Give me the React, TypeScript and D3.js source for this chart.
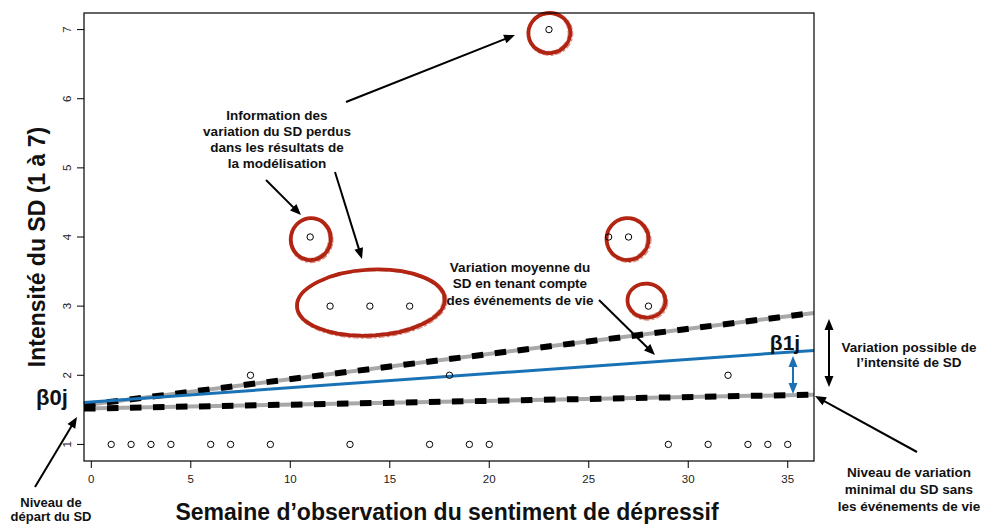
import React from "react";
import * as d3 from "d3";

// ---- data ----
const weeks = [1, 2, 3, 4, 6, 7, 8, 9, 11, 12, 13, 14, 16, 17, 18, 19, 20, 23, 26, 27, 28, 29, 31, 32, 33, 34, 35];
const intensity = [1, 1, 1, 1, 1, 1, 2, 1, 4, 3, 1, 3, 3, 1, 2, 1, 1, 7, 4, 4, 3, 1, 1, 2, 1, 1, 1];
const xTicks = [0, 5, 10, 15, 20, 25, 30, 35];
const yTicks = [1, 2, 3, 4, 5, 6, 7];
// trajectories: [intercept, slope]
const upperLine = [1.58, 0.0364];
const meanLine = [1.615, 0.0205];
const lowerLine = [1.52, 0.0055];
// highlighted groups: [centre week, centre value, rx(px), ry(px), rotation]
const highlights = [
  [23.02, 6.95, 21, 20, -8],
  [11.03, 3.97, 20, 21, 10],
  [26.95, 3.97, 21, 21, -5],
  [27.9, 3.08, 19, 17, 6],
  [14.05, 3.05, 74, 33, -3],
];

const W = 981;
const H = 524;
const L = 84, R = 814, T = 13, B = 461;
const FONT = "'Liberation Sans', Arial, Helvetica, sans-serif";

export default function App() {
  const x = d3.scaleLinear().domain([-0.367, 36.32]).range([L, R]);
  const y = d3.scaleLinear().domain([0.76, 7.24]).range([B, T]);
  const [x0, x1] = x.domain();

  const seg = (p: number[]) =>
    d3.line<number>()
      .x((w) => x(w))
      .y((w) => y(p[0] + p[1] * w))([x0, x1]) as string;

  const arrow = (
    x1a: number, y1a: number, x2a: number, y2a: number,
    color = "#000", both = false, key?: string
  ) => {
    const ang = Math.atan2(y2a - y1a, x2a - x1a);
    const len = 11, hw = 4.5;
    const head = (px: number, py: number, a: number) => {
      const bx = px - len * Math.cos(a), by = py - len * Math.sin(a);
      const nx = -Math.sin(a) * hw, ny = Math.cos(a) * hw;
      return `M${px},${py}L${bx + nx},${by + ny}L${bx - nx},${by - ny}Z`;
    };
    const sx = both ? x1a + (len - 2) * Math.cos(ang) : x1a;
    const sy = both ? y1a + (len - 2) * Math.sin(ang) : y1a;
    const ex = x2a - (len - 2) * Math.cos(ang);
    const ey = y2a - (len - 2) * Math.sin(ang);
    return (
      <g key={key}>
        <line x1={sx} y1={sy} x2={ex} y2={ey} stroke={color} strokeWidth={2} />
        <path d={head(x2a, y2a, ang)} fill={color} />
        {both && <path d={head(x1a, y1a, ang + Math.PI)} fill={color} />}
      </g>
    );
  };

  const textBlock = (lines: string[], cx: number, cy0: number, lh: number, size = 13.5, key?: string) => (
    <text key={key} x={cx} fontFamily={FONT} fontWeight="bold" fontSize={size} textAnchor="middle" fill="#111">
      {lines.map((t, i) => (
        <tspan key={i} x={cx} y={cy0 + i * lh} dominantBaseline="central">{t}</tspan>
      ))}
    </text>
  );

  return (
    <svg width={W} height={H} style={{ position: "absolute", left: 0, top: 0, background: "#fff" }}>
      {/* highlight brush circles */}
      {highlights.map((h, i) => {
        const cx = x(h[0]), cy = y(h[1]);
        const [rx, ry, rot] = [h[2], h[3], h[4]];
        return (
          <g key={"hl" + i} transform={`rotate(${rot},${cx},${cy})`} fill="none">
            <ellipse cx={cx} cy={cy} rx={rx} ry={ry} stroke="#b22412" strokeWidth={3.8} />
            <ellipse cx={cx + 0.7} cy={cy + 1} rx={rx + 1.6} ry={ry + 1.4} stroke="#c0301c" strokeWidth={1.2} opacity={0.55} strokeDasharray="6,2,3,2" />
            <ellipse cx={cx - 0.5} cy={cy - 0.3} rx={rx - 1.6} ry={ry - 1.5} stroke="#a81d0e" strokeWidth={1} opacity={0.5} strokeDasharray="9,3" />
          </g>
        );
      })}

      {/* trajectories */}
      {[upperLine, lowerLine].map((p, i) => (
        <g key={"dl" + i}>
          <path d={seg(p)} stroke="#a8a8a8" strokeWidth={4} fill="none" />
          <path d={seg(p)} stroke="#000" strokeWidth={6} strokeDasharray="11.5,11.5" fill="none" />
        </g>
      ))}
      <path d={seg(meanLine)} stroke="#1a72b6" strokeWidth={3} fill="none" />

      {/* points */}
      {weeks.map((w, i) => (
        <circle key={"p" + i} cx={x(w)} cy={y(intensity[i])} r={3.2} fill="none" stroke="#000" strokeWidth={1} />
      ))}

      {/* box */}
      <rect x={L} y={T} width={R - L} height={B - T} fill="none" stroke="#000" strokeWidth={1.2} />

      {/* x axis */}
      {xTicks.map((t) => (
        <g key={"xt" + t}>
          <line x1={x(t)} x2={x(t)} y1={B} y2={B + 7} stroke="#000" strokeWidth={1} />
          <text x={x(t)} y={B + 22} fontFamily={FONT} fontSize={11.5} textAnchor="middle" fill="#222">{t}</text>
        </g>
      ))}
      {/* y axis */}
      {yTicks.map((t) => (
        <g key={"yt" + t}>
          <line x1={L - 7} x2={L} y1={y(t)} y2={y(t)} stroke="#000" strokeWidth={1} />
          <text transform={`translate(${L - 17},${y(t)}) rotate(-90)`} fontFamily={FONT} fontSize={11.5} textAnchor="middle" dominantBaseline="central" fill="#222">{t}</text>
        </g>
      ))}

      {/* axis titles */}
      <text x={447} y={512} fontFamily={FONT} fontWeight="bold" fontSize={23} textAnchor="middle" dominantBaseline="central" fill="#111">
        Semaine d’observation du sentiment de dépressif
      </text>
      <text transform={`translate(37,247) rotate(-90)`} fontFamily={FONT} fontWeight="bold" fontSize={23} textAnchor="middle" dominantBaseline="central" fill="#111">
        Intensité du SD (1 à 7)
      </text>

      {/* beta labels */}
      <text x={52} y={397} fontFamily={FONT} fontWeight="bold" fontSize={22} textAnchor="middle" dominantBaseline="central" fill="#111">β0j</text>
      <text x={785} y={342} fontFamily={FONT} fontWeight="bold" fontSize={21} textAnchor="middle" dominantBaseline="central" fill="#111">β1j</text>

      {/* annotations */}
      {textBlock(["Information des", "variation du SD perdus", "dans les résultats de", "la modélisation"], 277, 115, 16, 13.5, "t1")}
      {textBlock(["Variation moyenne du", "SD en tenant compte", "des événements de vie"], 520, 267, 16.7, 13.5, "t2")}
      {textBlock(["Variation possible de", "l’intensité de SD"], 909, 347, 15.5, 13.5, "t3")}
      {textBlock(["Niveau de variation", "minimal du SD sans", "les événements de vie"], 909, 472, 17, 13.5, "t4")}
      {textBlock(["Niveau de", "départ du SD"], 51, 502, 14.5, 13, "t5")}

      {/* arrows */}
      {arrow(346, 102, 515, 35, "#000", false, "a1")}
      {arrow(266, 180, 301, 215, "#000", false, "a2")}
      {arrow(335, 172, 362, 259, "#000", false, "a3")}
      {arrow(599, 300, 655, 355, "#000", false, "a4")}
      {arrow(35, 487, 77, 417, "#000", false, "a5")}
      {arrow(917, 452, 815, 396, "#000", false, "a6")}
      {arrow(829, 319, 829, 387, "#000", true, "a7")}
      {arrow(793, 356, 793, 394, "#1a72b6", true, "a8")}
    </svg>
  );
}
